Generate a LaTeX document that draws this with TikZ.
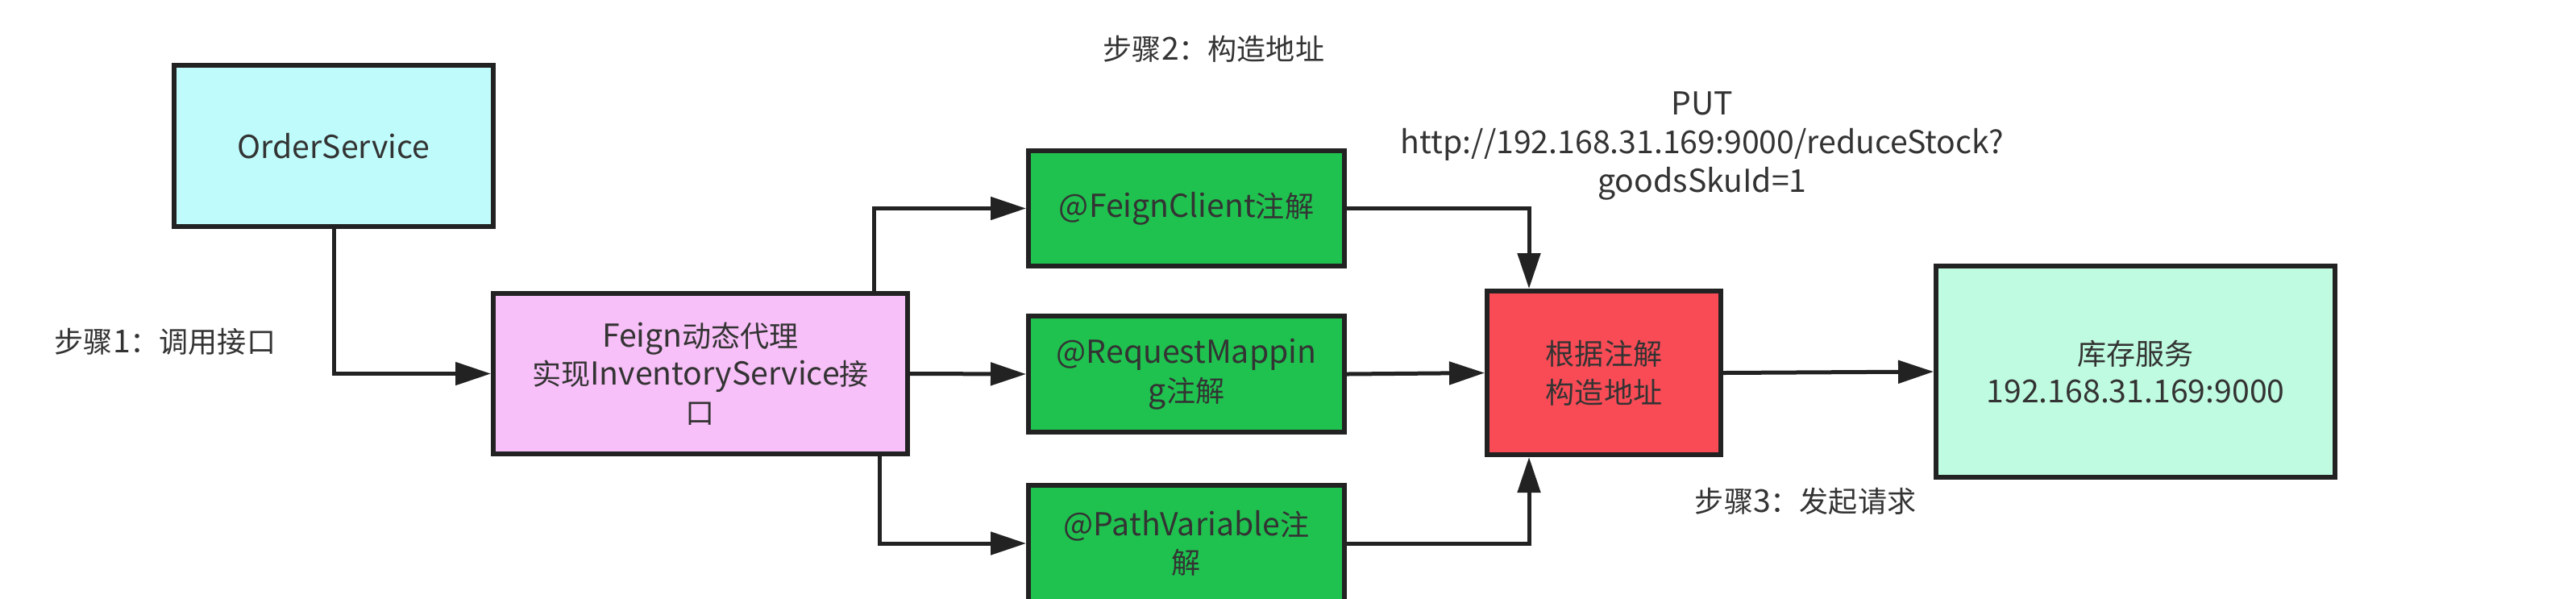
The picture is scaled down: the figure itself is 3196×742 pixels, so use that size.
\documentclass[tikz,border=0pt]{standalone}
\usepackage{fontspec}
\setmainfont{Noto Sans CJK SC}
\newfontfamily\cjk{Noto Sans CJK SC}[Scale=0.92]
\usetikzlibrary{arrows.meta}
\definecolor{cyanfill}{HTML}{BFFBFB}
\definecolor{pinkfill}{HTML}{F8C0F8}
\definecolor{greenfill}{HTML}{1FC24F}
\definecolor{redfill}{HTML}{F84B55}
\definecolor{mintfill}{HTML}{BFFBE0}
\definecolor{linecol}{HTML}{222222}
\definecolor{textcol}{HTML}{333333}
\begin{document}
\begin{tikzpicture}[x=0.25pt,y=-0.25pt,
  box/.style={draw=linecol, line width=1.5pt, inner sep=0pt, align=center,
    font=\rmfamily\fontsize{9.8}{11.9}\selectfont, text=textcol},
  lbl/.style={inner sep=0pt, align=center, font=\rmfamily\fontsize{9.8}{11.9}\selectfont, text=textcol},
  arr/.style={draw=linecol, line width=1.25pt, -{Triangle[length=11pt,width=7pt]}}]
\useasboundingbox (0,0) rectangle (3196,742);
\fill[white] (0,0) rectangle (3196,742);
\begin{scope}
\clip (0,0) rectangle (3196,742);
\node[box, fill=cyanfill, minimum width=99pt, minimum height=50pt] (os) at (414,181) {OrderService};
\node[box, fill=pinkfill, minimum width=128.5pt, minimum height=49.75pt] (fg) at (869,463.5) {Feign{\cjk 动态代理}\\{\cjk 实现}InventoryService{\cjk 接}\\{\cjk 口}};
\node[box, fill=greenfill, minimum width=98pt, minimum height=35.75pt] (fc) at (1472,258.5) {@FeignClient{\cjk 注解}};
\node[box, fill=greenfill, minimum width=98pt, minimum height=36pt] (rm) at (1472,464) {@RequestMappin\\g{\cjk 注解}};
\node[box, fill=greenfill, minimum width=98pt, minimum height=36pt] (pv) at (1472,674) {@PathVariable{\cjk 注}\\{\cjk 解}};
\node[box, fill=redfill, minimum width=72.5pt, minimum height=50.75pt] (rd) at (1990,462.5) {{\cjk 根据注解}\\{\cjk 构造地址}};
\node[box, fill=mintfill, minimum width=123.75pt, minimum height=65.5pt] (inv) at (2649.5,461) {{\cjk 库存服务}\\192.168.31.169:9000};
\end{scope}
\node[lbl] (s1) at (205,424) {{\cjk 步骤}1{\cjk ：调用接口}};
\node[lbl] (s2) at (1506,61) {{\cjk 步骤}2{\cjk ：构造地址}};
\node[lbl] (s3) at (2240,622) {{\cjk 步骤}3{\cjk ：发起请求}};
\node[lbl] (put) at (2112,181) {PUT\\http://192.168.31.169:9000/reduceStock?\\goodsSkuId=1};
\draw[arr] (os.south) |- (fg.west);
\draw[arr] ([xshift=-11.25pt]fg.north east) |- (fc.west);
\draw[arr] (fg.east) -- (rm.west);
\draw[arr] ([xshift=-9.5pt]fg.south east) |- (pv.west);
\draw[arr] (fc.east) -| ([xshift=13.75pt]rd.north west);
\draw[arr] (rm.east) -- (rd.west);
\draw[arr] (pv.east) -| ([xshift=13.75pt]rd.south west);
\draw[arr] (rd.east) -- (inv.west);
\end{tikzpicture}
\end{document}
